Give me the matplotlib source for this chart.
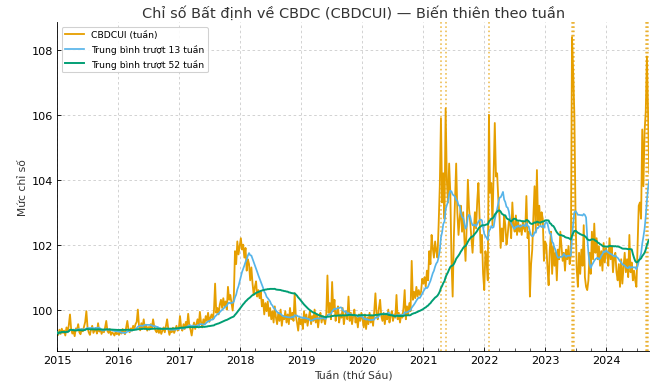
import matplotlib
matplotlib.use("Agg")
import matplotlib.pyplot as plt
import matplotlib.dates as mdates
import pandas as pd
import numpy as np

start_date = "2015-01-02"

v2015 = [99.30, 99.22, 99.38, 99.25, 99.41, 99.28, 99.35, 99.20, 99.45, 99.30, 99.52, 99.85, 99.40,
         99.26, 99.33, 99.18, 99.42, 99.36, 99.55, 99.30, 99.24, 99.40, 99.33, 99.48, 99.62, 99.95,
         99.45, 99.30, 99.22, 99.38, 99.50, 99.28, 99.35, 99.42, 99.26, 99.58, 99.32, 99.40, 99.25,
         99.36, 99.30, 99.45, 99.65, 99.34, 99.28, 99.40, 99.22, 99.30, 99.26, 99.20, 99.32, 99.24]
v2016 = [99.28, 99.22, 99.35, 99.26, 99.40, 99.30, 99.24, 99.45, 99.65, 99.38, 99.30, 99.42, 99.35,
         99.50, 99.40, 99.55, 99.62, 100.00, 99.48, 99.36, 99.58, 99.44, 99.70, 99.40, 99.52, 99.35,
         99.46, 99.38, 99.55, 99.42, 99.70, 99.48, 99.36, 99.30, 99.42, 99.28, 99.38, 99.25, 99.35,
         99.45, 99.30, 99.50, 99.70, 99.40, 99.22, 99.36, 99.30, 99.44, 99.28, 99.38, 99.50, 99.35, 99.42]
v2017 = [99.80, 99.45, 99.35, 99.55, 99.40, 99.62, 99.48, 99.87, 99.50, 99.38,
         99.20,
         99.45, 99.60, 99.40, 99.55, 99.70, 99.50,
         99.93,
         99.60, 99.45, 99.70, 99.55, 99.80, 99.65, 99.90, 99.62, 99.75, 99.85, 99.70, 99.95,
         100.80,
         99.90, 100.05, 99.85, 100.15, 100.30, 100.05, 100.35, 100.10, 100.25, 100.00,
         100.70,
         100.30, 100.45, 100.20, 99.97, 100.40,
         101.80,
         101.40, 102.10, 101.70, 101.95]
v2018 = [102.20, 101.85, 102.00, 101.60, 101.90, 101.20, 101.55, 101.40, 100.90, 101.30, 100.80, 100.45,
         100.70, 100.87, 100.40, 100.60, 100.35, 100.55, 100.10, 100.30, 99.85, 100.20,
         99.95, 100.25, 99.80, 100.05, 99.70, 99.95, 99.60, 100.10, 99.75, 99.55, 99.90, 99.65,
         100.00, 99.50, 99.80, 99.70, 99.95, 99.60, 99.85, 99.55, 100.05, 99.70, 99.90, 99.65,
         100.50,
         99.80, 99.60, 99.35, 99.75, 99.55]
v2019 = [99.70, 99.40, 99.95, 99.60, 99.85, 99.50, 99.75, 99.95, 99.55, 99.80, 99.65, 100.00,
         99.60, 99.85, 99.45, 99.75, 99.90, 99.60, 99.80, 99.70, 99.55, 99.85,
         101.05,
         99.90, 100.20, 99.70,
         100.85,
         99.95, 100.30, 99.65, 99.90, 100.10, 99.60, 99.85, 99.75, 100.05, 99.55, 99.80, 99.95, 99.70,
         100.40,
         99.65, 99.90, 99.55, 99.80, 100.00, 99.60, 99.75, 99.45, 99.85, 99.65, 99.90]
v2020 = [99.70, 99.45, 99.85, 99.40, 99.75, 99.55, 99.90, 99.60, 99.80, 99.50, 99.95,
         100.50,
         99.85, 99.70, 100.05,
         100.30,
         99.80, 99.65, 99.90, 99.55, 99.85, 99.70, 100.00, 99.60, 99.80, 99.95, 99.65, 99.85, 99.75,
         100.45,
         99.70, 99.90, 99.60, 99.85, 99.75, 100.05,
         100.60,
         99.70, 100.10, 99.85, 100.20, 99.95,
         101.50,
         100.30, 100.55, 100.35, 100.70, 100.40, 100.60, 100.45, 100.55, 100.95]
v2021_2022 = [100.80, 101.00,
              100.70, 101.20, 100.90, 101.80, 101.40, 102.30, 101.90, 101.60, 102.10, 101.80,
              101.60, 102.60, 103.80, 105.90, 103.30, 104.20, 102.80, 106.20, 104.00, 103.30,
              104.50, 103.60, 101.50, 100.40, 102.20, 103.40, 104.50, 103.00, 102.30,
              102.80, 103.20, 102.40, 103.00, 102.20, 101.50, 102.60, 104.00, 103.10, 102.70,
              102.20, 101.75, 102.40, 103.00, 102.50, 103.35, 103.90, 102.80, 101.75, 102.30,
              101.10, 100.60, 101.80, 101.50,
              100.90, 106.00, 103.60, 103.90, 102.60, 104.20, 105.75, 104.10, 104.20, 103.40,
              102.90, 101.90, 102.50, 102.10, 102.90, 102.60, 102.00, 102.30, 102.70, 102.80,
              102.20, 103.30, 102.60, 102.40, 102.90, 102.30, 102.70, 102.40, 102.60, 102.30,
              102.70, 102.50, 102.40, 103.50, 102.20, 102.40, 100.40, 101.40, 101.85, 102.90,
              103.80, 102.40, 104.30, 102.60, 103.20, 102.60, 103.00, 102.80, 101.50, 102.10]
v2023 = [102.00, 101.30, 100.75, 101.85, 102.40, 101.10, 101.95, 101.35, 101.75, 100.90,
         101.85, 101.55, 102.40, 101.95, 101.50, 101.75, 101.20, 101.85, 101.55, 101.96,
         101.40, 101.70, 108.40, 107.30, 106.00, 102.90, 101.25, 100.70, 101.75, 101.10,
         101.85, 101.35, 102.60, 101.00, 100.70, 100.60, 100.90, 101.75, 101.10, 102.40,
         101.55, 102.65, 101.75, 102.20, 101.55, 101.95, 101.35, 101.80, 101.20, 102.05,
         101.45, 101.90]
v2024 = [101.75, 101.35, 102.20, 101.55, 101.95, 101.15, 101.60, 101.75, 101.15, 100.90,
         101.40, 100.70, 101.55, 100.80, 101.30, 101.75, 101.15, 101.55, 101.00, 102.30,
         101.15, 101.45, 100.90, 101.20, 100.90, 100.70, 101.96, 103.20, 103.30, 102.80,
         105.55, 103.80, 105.50, 106.10, 107.80, 106.00, 104.20]

spike_threshold = 105.8

values = v2015 + v2016 + v2017 + v2018 + v2019 + v2020 + v2021_2022 + v2023 + v2024
dates = pd.date_range(start_date, periods=len(values), freq="W-FRI")
s = pd.Series(values, index=dates)
ma13 = s.rolling(13, min_periods=1).mean()
ma52 = s.rolling(52, min_periods=1).mean()

fig, ax = plt.subplots(figsize=(8.5, 4.987), dpi=77)
fig.subplots_adjust(left=0.087, right=0.992, bottom=0.083, top=0.94)

ax.plot(s.index, s.values, color="#E69F00", lw=1.7, label="CBDCUI (tuần)", zorder=2)
ax.plot(ma13.index, ma13.values, color="#56B4E9", lw=1.6, label="Trung bình trượt 13 tuần", zorder=3)
ax.plot(ma52.index, ma52.values, color="#009E73", lw=1.8, label="Trung bình trượt 52 tuần", zorder=4)

for d in s.index[s.values > spike_threshold]:
    ax.axvline(d, color="#E69F00", ls=":", lw=1.5, alpha=0.7, zorder=1)

ax.set_xlim(pd.Timestamp("2015-01-01"), s.index[-1])
ax.margins(y=0.05)
ax.xaxis.set_major_locator(mdates.YearLocator())
ax.xaxis.set_major_formatter(mdates.DateFormatter("%Y"))
ax.xaxis.set_minor_locator(mdates.MonthLocator(bymonth=[4, 7, 10]))
ax.grid(True, which="major", ls=(0, (3, 3)), lw=0.8, color="#cccccc")
for sp in ["top", "right"]:
    ax.spines[sp].set_visible(False)
ax.tick_params(which="both", direction="in", labelsize=10.5)
ax.tick_params(which="major", length=4)
ax.tick_params(which="minor", length=2.5)

ax.set_title("Chỉ số Bất định về CBDC (CBDCUI) — Biến thiên theo tuần", fontsize=13.5, color="#333333", pad=5)
ax.set_xlabel("Tuần (thứ Sáu)", fontsize=10, color="#333333")
ax.set_ylabel("Mức chỉ số", fontsize=10, color="#333333")
ax.legend(loc="upper left", fontsize=8.7, framealpha=0.9)

fig.savefig("out.png", dpi=77)
